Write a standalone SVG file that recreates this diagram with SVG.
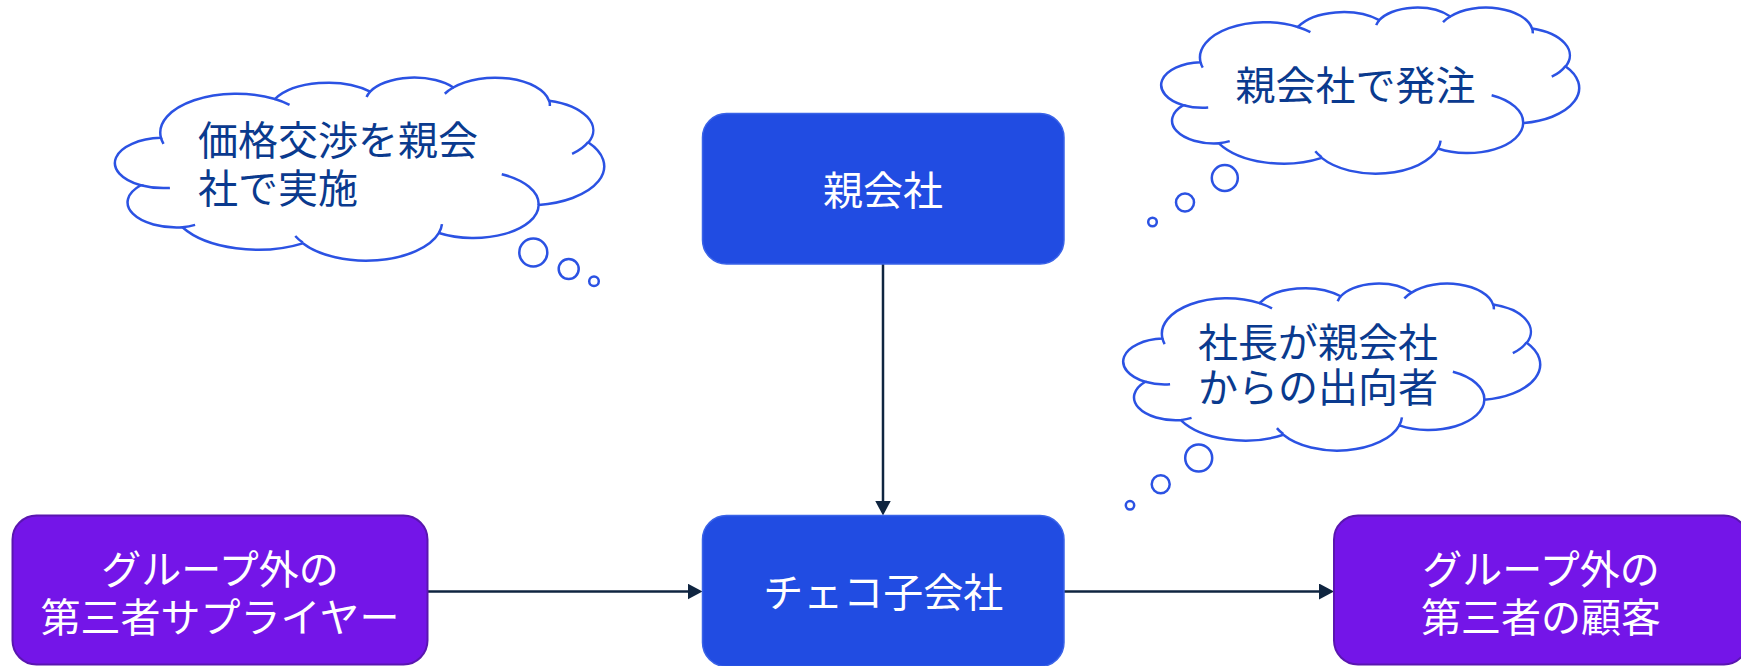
<svg xmlns="http://www.w3.org/2000/svg" width="1741" height="666" viewBox="0 0 1741 666">
<defs>
<style>
.node-blue{fill:#214ce2;stroke:#3a63e8;stroke-width:1.5}
.node-purple{fill:#7415e8;stroke:#5a16b0;stroke-width:2}
.ntext{font-family:"Noto Sans CJK JP","Noto Sans",sans-serif;font-size:40px;fill:#ffffff;text-anchor:middle}
.ctext{font-family:"Noto Sans CJK JP","Noto Sans",sans-serif;font-size:40px;fill:#0a3a8e}
.cloud-body{fill:#ffffff;stroke:#2b52e3;stroke-width:2.5;vector-effect:non-scaling-stroke}
.cloud-hook{fill:none;stroke:#2b52e3;stroke-width:2.5;vector-effect:non-scaling-stroke}
.bubble{fill:#ffffff;stroke:#2b52e3;stroke-width:2.5}
.conn{fill:none;stroke:#0f2540;stroke-width:2.5}
</style>
<marker id="arrow" markerUnits="userSpaceOnUse" markerWidth="17" markerHeight="17" refX="5" refY="8" orient="auto">
<path d="M0,0 L15,8 L0,16 Z" fill="#0f2540"/>
</marker>
</defs>
<rect width="1741" height="666" fill="#ffffff"/>

<g id="connectors">
<line class="conn" x1="883" y1="264" x2="883" y2="505.5" marker-end="url(#arrow)"/>
<line class="conn" x1="427.5" y1="591.5" x2="692.5" y2="591.5" marker-end="url(#arrow)"/>
<line class="conn" x1="1064" y1="591.5" x2="1324" y2="591.5" marker-end="url(#arrow)"/>
</g>

<g id="cloud-negotiation">
<g transform="translate(117,77) scale(0.011273,0.004236)">
<path class="cloud-body" d="M3900 14370 A6753 9190 0 0 1 14005 5202 A5333 7267 0 0 1 22457 3434 A4365 5945 0 0 1 29834 2484 A4857 6595 0 0 1 38319 5581 A5333 7273 0 0 1 41819 15465 A6775 9220 0 0 1 37405 30207 A5785 7867 0 0 1 28557 36818 A6752 9215 0 0 1 16481 39268 A7720 10543 0 0 1 5805 35473 A4360 5918 0 0 1 2115 25551 A4345 5945 0 0 1 3900 14370 Z"/>
<path class="cloud-hook" d="M4693 26177 A4345 5945 0 0 1 2115 25551 M6928 34899 A4360 5918 0 0 1 5805 35473 M16478 39090 A6752 9215 0 0 1 15814 37530 M28827 34751 A6752 9215 0 0 1 28557 36818 M34129 22954 A5785 7867 0 0 1 37405 30207 M41798 15354 A5333 7273 0 0 1 40371 18140 M38324 5426 A4857 6595 0 0 1 38395 6844 M29078 3952 A4857 6595 0 0 1 29834 2484 M22141 4720 A4365 5945 0 0 1 22457 3434 M14000 5192 A6753 9190 0 0 1 15307 6553 M4127 15789 A6753 9190 0 0 1 3900 14370"/>
</g>
<circle class="bubble" cx="533.3" cy="252.5" r="14"/>
<circle class="bubble" cx="568.7" cy="269" r="10"/>
<circle class="bubble" cx="594" cy="281.3" r="4.8"/>
<text class="ctext" x="198" y="155">価格交渉を親会</text>
<text class="ctext" x="198" y="203">社で実施</text>
</g>

<g id="cloud-order">
<g transform="translate(1163,7) scale(0.0096296,0.0038426)">
<path class="cloud-body" d="M3900 14370 A6753 9190 0 0 1 14005 5202 A5333 7267 0 0 1 22457 3434 A4365 5945 0 0 1 29834 2484 A4857 6595 0 0 1 38319 5581 A5333 7273 0 0 1 41819 15465 A6775 9220 0 0 1 37405 30207 A5785 7867 0 0 1 28557 36818 A6752 9215 0 0 1 16481 39268 A7720 10543 0 0 1 5805 35473 A4360 5918 0 0 1 2115 25551 A4345 5945 0 0 1 3900 14370 Z"/>
<path class="cloud-hook" d="M4693 26177 A4345 5945 0 0 1 2115 25551 M6928 34899 A4360 5918 0 0 1 5805 35473 M16478 39090 A6752 9215 0 0 1 15814 37530 M28827 34751 A6752 9215 0 0 1 28557 36818 M34129 22954 A5785 7867 0 0 1 37405 30207 M41798 15354 A5333 7273 0 0 1 40371 18140 M38324 5426 A4857 6595 0 0 1 38395 6844 M29078 3952 A4857 6595 0 0 1 29834 2484 M22141 4720 A4365 5945 0 0 1 22457 3434 M14000 5192 A6753 9190 0 0 1 15307 6553 M4127 15789 A6753 9190 0 0 1 3900 14370"/>
</g>
<circle class="bubble" cx="1224.8" cy="178" r="13"/>
<circle class="bubble" cx="1185" cy="202.5" r="9"/>
<circle class="bubble" cx="1152.5" cy="222" r="4.3"/>
<text class="ctext" x="1355.5" y="100" text-anchor="middle">親会社で発注</text>
</g>

<g id="cloud-president">
<g transform="translate(1125,283) scale(0.0096065,0.0038657)">
<path class="cloud-body" d="M3900 14370 A6753 9190 0 0 1 14005 5202 A5333 7267 0 0 1 22457 3434 A4365 5945 0 0 1 29834 2484 A4857 6595 0 0 1 38319 5581 A5333 7273 0 0 1 41819 15465 A6775 9220 0 0 1 37405 30207 A5785 7867 0 0 1 28557 36818 A6752 9215 0 0 1 16481 39268 A7720 10543 0 0 1 5805 35473 A4360 5918 0 0 1 2115 25551 A4345 5945 0 0 1 3900 14370 Z"/>
<path class="cloud-hook" d="M4693 26177 A4345 5945 0 0 1 2115 25551 M6928 34899 A4360 5918 0 0 1 5805 35473 M16478 39090 A6752 9215 0 0 1 15814 37530 M28827 34751 A6752 9215 0 0 1 28557 36818 M34129 22954 A5785 7867 0 0 1 37405 30207 M41798 15354 A5333 7273 0 0 1 40371 18140 M38324 5426 A4857 6595 0 0 1 38395 6844 M29078 3952 A4857 6595 0 0 1 29834 2484 M22141 4720 A4365 5945 0 0 1 22457 3434 M14000 5192 A6753 9190 0 0 1 15307 6553 M4127 15789 A6753 9190 0 0 1 3900 14370"/>
</g>
<circle class="bubble" cx="1198.7" cy="458" r="13.5"/>
<circle class="bubble" cx="1160.7" cy="484.3" r="9"/>
<circle class="bubble" cx="1130" cy="505.3" r="4.2"/>
<text class="ctext" x="1198" y="356.5">社長が親会社</text>
<text class="ctext" x="1198" y="402">からの出向者</text>
</g>

<g id="node-parent">
<rect class="node-blue" x="702.5" y="113.5" width="361.5" height="150.5" rx="24"/>
<text class="ntext" x="883" y="204.5">親会社</text>
</g>

<g id="node-czech">
<rect class="node-blue" x="702.5" y="515.5" width="361.5" height="151" rx="24"/>
<text class="ntext" x="883.3" y="607">チェコ子会社</text>
</g>

<g id="node-supplier">
<rect class="node-purple" x="12.5" y="515.5" width="415" height="149" rx="24"/>
<text class="ntext" x="220" y="584">グループ外の</text>
<text class="ntext" x="220" y="632">第三者サプライヤー</text>
</g>

<g id="node-customer">
<rect class="node-purple" x="1334" y="515.5" width="414" height="149" rx="24"/>
<text class="ntext" x="1541" y="584">グループ外の</text>
<text class="ntext" x="1541" y="632">第三者の顧客</text>
</g>
</svg>
